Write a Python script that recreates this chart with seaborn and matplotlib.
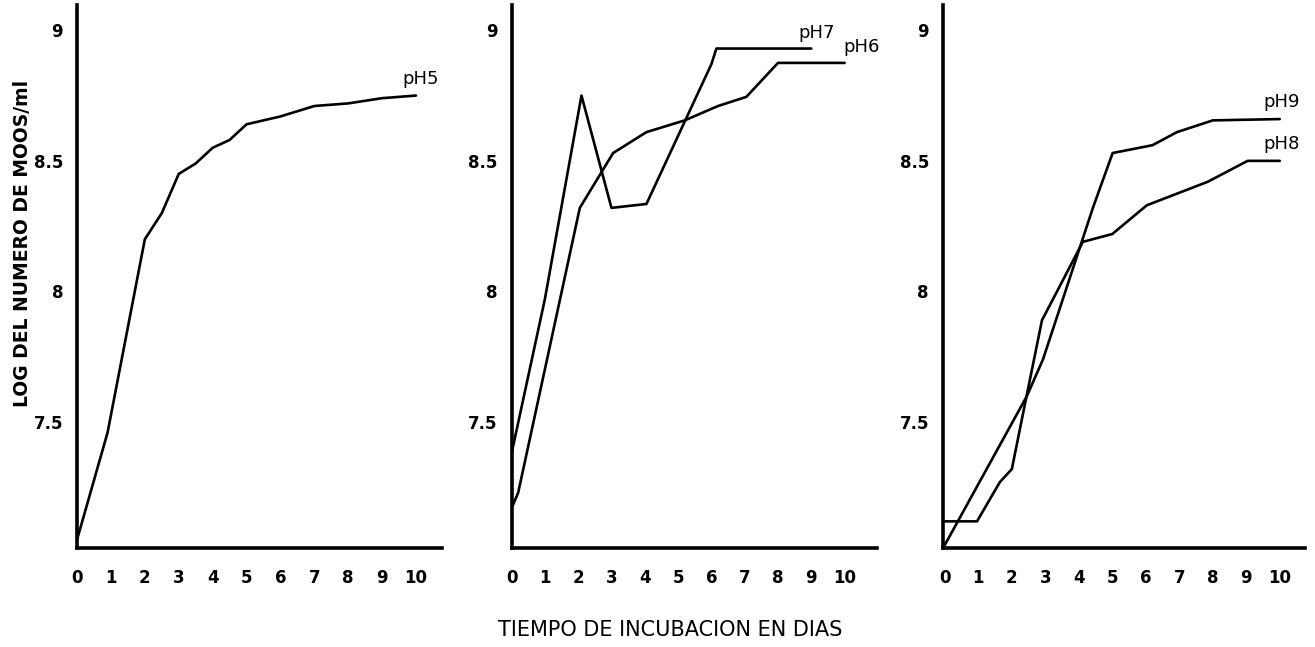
import matplotlib
matplotlib.use('Agg')
import matplotlib.pyplot as plt
import seaborn as sns

# Datos (dias, log del numero de microorganismos/ml)
dias_ph5 = [0, 0.9, 2, 2.5, 3, 3.5, 4, 4.5, 5, 6, 7, 8, 9, 10]
log_ph5 = [7.05, 7.46, 8.20, 8.30, 8.45, 8.49, 8.55, 8.58, 8.64, 8.67, 8.71, 8.72, 8.74, 8.75]

dias_ph6 = [0, 0.2, 2.05, 3.05, 4.05, 5.2, 6.2, 7.05, 8, 10]
log_ph6 = [7.17, 7.23, 8.32, 8.53, 8.61, 8.655, 8.71, 8.745, 8.875, 8.875]

dias_ph7 = [0, 1, 2.1, 3, 4.05, 6, 6.15, 9]
log_ph7 = [7.38, 7.97, 8.75, 8.32, 8.335, 8.87, 8.93, 8.93]

dias_ph8 = [0, 0.96, 1.64, 2.0, 2.33, 2.9, 3.43, 4.12, 5, 6.03, 7.85, 9.04, 10]
log_ph8 = [7.12, 7.12, 7.27, 7.32, 7.53, 7.89, 8.02, 8.19, 8.22, 8.33, 8.42, 8.50, 8.50]

dias_ph9 = [0, 2.45, 2.93, 4.42, 5.01, 6.2, 6.93, 8, 10]
log_ph9 = [7.03, 7.60, 7.74, 8.32, 8.53, 8.56, 8.61, 8.655, 8.66]

x_ticks = list(range(0, 11))
y_ticks = [7.5, 8, 8.5, 9]
y_ticklabels = ['7.5', '8', '8.5', '9']

sns.set_style('white')
plt.rcParams['font.family'] = ['DejaVu Sans']
plt.rcParams['text.color'] = 'black'

fig = plt.figure(figsize=(13.15, 6.47), dpi=100)
ax1 = fig.add_axes([0.0586, 0.153, 0.2776, 0.839])
ax2 = fig.add_axes([0.389, 0.153, 0.2776, 0.839])
ax3 = fig.add_axes([0.717, 0.153, 0.2753, 0.839])

paneles = [
    (ax1, [(dias_ph5, log_ph5, 'pH5')], (0, 10.77)),
    (ax2, [(dias_ph7, log_ph7, 'pH7'), (dias_ph6, log_ph6, 'pH6')], (0, 10.96)),
    (ax3, [(dias_ph9, log_ph9, 'pH9'), (dias_ph8, log_ph8, 'pH8')], (-0.06, 10.75)),
]

for ax, series, xlim in paneles:
    for xs, ys, nombre in series:
        sns.lineplot(x=xs, y=ys, ax=ax, color='black', linewidth=1.9,
                     sort=False, estimator=None)
    ax.set_xlim(*xlim)
    ax.set_ylim(7.018, 9.096)
    ax.set_xticks(x_ticks)
    ax.set_xticklabels([str(t) for t in x_ticks])
    ax.set_yticks(y_ticks)
    ax.set_yticklabels(y_ticklabels)
    ax.tick_params(axis='both', direction='in', length=5, width=1.8,
                   color='black', labelsize=12, labelcolor='black')
    ax.tick_params(axis='x', pad=15)
    ax.tick_params(axis='y', pad=10)
    for lab in ax.get_xticklabels() + ax.get_yticklabels():
        lab.set_fontweight('bold')
    for s in ['top', 'right']:
        ax.spines[s].set_visible(False)
    for s in ['left', 'bottom']:
        ax.spines[s].set_linewidth(2.6)
        ax.spines[s].set_color('black')
    ax.patch.set_alpha(0)

# etiquetas de las curvas
ax1.text(9.6, 8.78, 'pH5', fontsize=13, ha='left', va='bottom')
ax2.text(8.6, 8.955, 'pH7', fontsize=13, ha='left', va='bottom')
ax2.text(9.95, 8.90, 'pH6', fontsize=13, ha='left', va='bottom')
ax3.text(9.5, 8.69, 'pH9', fontsize=13, ha='left', va='bottom')
ax3.text(9.5, 8.53, 'pH8', fontsize=13, ha='left', va='bottom')

fig.text(0.017, 0.624, 'LOG DEL NUMERO DE MOOS/ml', rotation=90, fontsize=13.5,
         fontweight='bold', ha='center', va='center')
fig.text(0.5095, 0.026, 'TIEMPO DE INCUBACION EN DIAS', fontsize=15,
         ha='center', va='center')

fig.savefig('out.png', dpi=100)
